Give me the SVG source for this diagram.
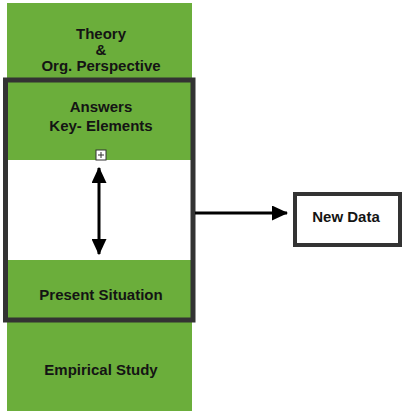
<svg xmlns="http://www.w3.org/2000/svg" width="403" height="414" viewBox="0 0 403 414">
<style>
.g{fill:#6bae3b}
.t{font-family:"Liberation Sans",Arial,sans-serif;font-weight:bold;font-size:15px;fill:#141414;text-anchor:middle}
.frame{fill:none;stroke:#333;stroke-width:5}
.conn{stroke:#000;stroke-width:3;fill:none}
</style>
<defs>
<marker id="ah" markerWidth="5.4" markerHeight="5" refX="5" refY="2.5" orient="auto-start-reverse" markerUnits="strokeWidth">
<path d="M0,0 L5.4,2.5 L0,5 Z" fill="#000"/>
</marker>
</defs>
<rect width="403" height="414" fill="#fff"/>
<g id="theory">
<rect class="g" x="7" y="3" width="185" height="157"/>
<text class="t" x="101" y="39">Theory</text>
<text class="t" x="101" y="55">&amp;</text>
<text class="t" x="101" y="71">Org. Perspective</text>
</g>
<g id="answers">
<text class="t" x="101" y="112">Answers</text>
<text class="t" x="101" y="131">Key- Elements</text>
</g>
<g id="empirical">
<rect class="g" x="7" y="260" width="185" height="151"/>
<text class="t" x="101" y="300">Present Situation</text>
<text class="t" x="101" y="375">Empirical Study</text>
</g>
<g id="frame">
<rect class="frame" x="5.5" y="80" width="187.5" height="240"/>
</g>
<g id="plus">
<rect x="96" y="150" width="10" height="10" fill="#fff" stroke="#333" stroke-width="1"/>
<path d="M98,155 H104 M101,152 V158" stroke="#333" stroke-width="1"/>
</g>
<g id="newdata">
<rect x="295" y="194" width="105" height="51" fill="#fff" stroke="#333" stroke-width="4"/>
<text class="t" x="346" y="222">New Data</text>
</g>
<g id="connectors">
<line class="conn" x1="99" y1="168" x2="99" y2="254" marker-start="url(#ah)" marker-end="url(#ah)"/>
<line class="conn" x1="195" y1="213" x2="287" y2="213" marker-end="url(#ah)"/>
</g>
</svg>
